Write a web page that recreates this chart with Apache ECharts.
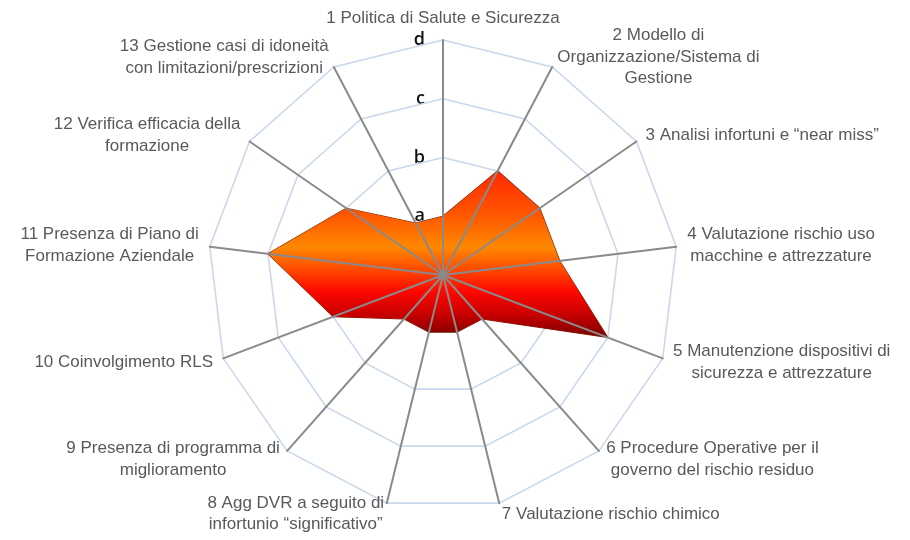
<!DOCTYPE html>
<html>
<head>
<meta charset="utf-8">
<script src="https://cdn.jsdelivr.net/npm/echarts@6/dist/echarts.min.js"></script>
<style>
  html, body { margin: 0; padding: 0; background: #fff; }
  #chart { width: 910px; height: 540px; }
</style>
</head>
<body>
<div id="chart"></div>
<script>
// indicatori (a capo come nel grafico originale)
var categories = [
  '1 Politica di Salute e Sicurezza',
  '2 Modello di\nOrganizzazione/Sistema di\nGestione',
  '3 Analisi infortuni e \u201cnear miss\u201d',
  '4 Valutazione rischio uso\nmacchine e attrezzature',
  '5 Manutenzione dispositivi di\nsicurezza e attrezzature',
  '6 Procedure Operative per il\ngoverno del rischio residuo',
  '7 Valutazione rischio chimico',
  '8 Agg DVR a seguito di\ninfortunio \u201csignificativo\u201d',
  '9 Presenza di programma di\nmiglioramento',
  '10 Coinvolgimento RLS',
  '11 Presenza di Piano di\nFormazione Aziendale',
  '12 Verifica efficacia della\nformazione',
  '13 Gestione casi di idoneit\u00e0\ncon limitazioni/prescrizioni'
];
// livello raggiunto: 1 = a, 2 = b, 3 = c, 4 = d
var values = [1, 2, 2, 2, 3, 1, 1, 1, 1, 2, 3, 2, 1];
var levelLabels = ['', 'a', 'b', 'c', 'd'];
var maxLevel = 4;

// il radar di ECharts gira in senso antiorario: 1 resta in alto, poi 13, 12, ... 2
var order = [0];
for (var i = categories.length - 1; i > 0; i--) order.push(i);

var indicators = order.map(function (i) {
  return { name: categories[i], min: 0, max: maxLevel };
});
var seriesValues = order.map(function (i) { return values[i]; });

var myChart = echarts.init(document.getElementById('chart'));
myChart.setOption({
  animation: false,
  radar: [{
    // anelli + nomi, sotto l'area
    center: [443, 275],
    radius: 235,
    startAngle: 90,
    splitNumber: maxLevel,
    shape: 'polygon',
    z: 1,
    indicator: indicators,
    nameGap: 11,
    axisName: {
      formatter: function (name) {
        return name.split('\n').map(function (l) {
          return '{c|' + l + '}';
        }).join('\n');
      },
      rich: {
        c: {
          align: 'center',
          fontFamily: 'Liberation Sans, Arial, sans-serif',
          fontSize: 17,
          lineHeight: 21.5,
          color: '#595959'
        }
      }
    },
    axisLine: { show: false },
    splitArea: { show: false },
    splitLine: {
      lineStyle: { color: '#c9d8eb', width: 1.6 }
    }
  }, {
    // raggi grigi, sopra l'area
    center: [443, 275],
    radius: 235,
    startAngle: 90,
    splitNumber: maxLevel,
    shape: 'polygon',
    z: 3,
    indicator: indicators,
    axisName: { show: false },
    splitArea: { show: false },
    splitLine: { show: false },
    axisLine: {
      lineStyle: { color: '#8a8a8a', width: 2 }
    }
  }],
  polar: { center: [443, 275], radius: 235, z: 4 },
  angleAxis: { show: false, min: 0, max: 360 },
  radiusAxis: {
    min: 0,
    max: maxLevel,
    interval: 1,
    axisLine: { show: false },
    axisTick: { show: false },
    splitLine: { show: false },
    axisLabel: {
      formatter: function (v) { return levelLabels[v] || ''; },
      align: 'right',
      margin: 18,
      padding: [0, 0, 26, 0],
      fontFamily: 'Open Sans, Carlito, sans-serif',
      fontSize: 18,
      fontWeight: 600,
      color: '#111'
    }
  },
  series: [{
    type: 'radar',
    radarIndex: 0,
    z: 2,
    symbol: 'none',
    data: [{ value: seriesValues }],
    lineStyle: { color: '#7a2400', width: 1.2 },
    areaStyle: {
      opacity: 1,
      color: new echarts.graphic.LinearGradient(0, 0, 0, 1, [
        { offset: 0, color: '#ff2800' },
        { offset: 0.25, color: '#ff5400' },
        { offset: 0.46, color: '#ff8800' },
        { offset: 0.6, color: '#ff4600' },
        { offset: 0.72, color: '#ff0800' },
        { offset: 0.87, color: '#c40000' },
        { offset: 1, color: '#7a0000' }
      ])
    }
  }]
});
</script>
</body>
</html>
